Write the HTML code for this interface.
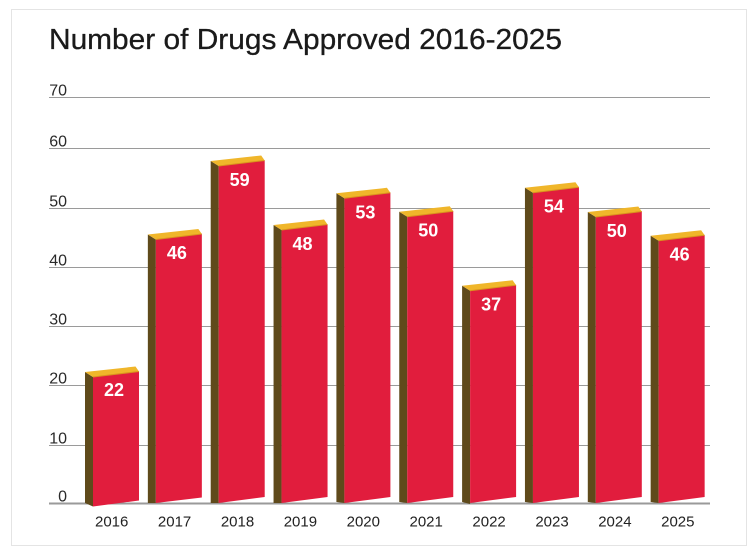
<!DOCTYPE html>
<html>
<head>
<meta charset="utf-8">
<style>
html,body{margin:0;padding:0;background:#fff;}
svg{display:block;}
text{font-family:"Liberation Sans",Arial,sans-serif;}
</style>
</head>
<body>
<svg width="754" height="556" viewBox="0 0 754 556" xmlns="http://www.w3.org/2000/svg">
<rect x="11.5" y="9.5" width="735" height="536" fill="#fff" stroke="#e4e4e4" stroke-width="1"/>
<text x="49" y="49" font-size="29" fill="#1a1a1a" stroke="#1a1a1a" stroke-width="0.3" textLength="513" lengthAdjust="spacingAndGlyphs">Number of Drugs Approved 2016-2025</text>

<g stroke="#9a9a9a" stroke-width="1">
<line x1="49" y1="97.5" x2="710" y2="97.5"/>
<line x1="49" y1="148.5" x2="710" y2="148.5"/>
<line x1="49" y1="208.5" x2="710" y2="208.5"/>
<line x1="49" y1="267.5" x2="710" y2="267.5"/>
<line x1="49" y1="326.5" x2="710" y2="326.5"/>
<line x1="49" y1="385.5" x2="710" y2="385.5"/>
<line x1="49" y1="445.5" x2="710" y2="445.5"/>
</g>
<line x1="49" y1="503.5" x2="710" y2="503.5" stroke="#9a9a9a" stroke-width="2"/>

<g font-size="16" fill="#2a2a2a" text-anchor="end">
<text x="67" y="95.5">70</text>
<text x="67" y="146.5">60</text>
<text x="67" y="206.5">50</text>
<text x="67" y="265.5">40</text>
<text x="67" y="324.5">30</text>
<text x="67" y="383.5">20</text>
<text x="67" y="443.5">10</text>
<text x="67" y="501.5">0</text>
</g>

<g id="bars">
<!-- 2016 -->
<polygon points="85,372 93,377 93,506.5 85,503" fill="#5f4a1b"/>
<polygon points="93,377 139,371.5 139,500.5 93,506.5" fill="#e11d3d"/>
<polygon points="85,372 93,377 139,371.5 135.5,366.5" fill="#f0b62a"/>
<line x1="93" y1="377" x2="139" y2="371.5" stroke="#d8931e" stroke-width="1"/>

<!-- 2017 -->
<polygon points="147.85,234.5 155.85,239.5 155.85,503 147.85,503" fill="#5f4a1b"/>
<polygon points="155.85,239.5 201.85,234 201.85,497.5 155.85,503" fill="#e11d3d"/>
<polygon points="147.85,234.5 155.85,239.5 201.85,234 198.35,229" fill="#f0b62a"/>
<line x1="155.85" y1="239.5" x2="201.85" y2="234" stroke="#d8931e" stroke-width="1"/>

<!-- 2018 -->
<polygon points="210.7,161 218.7,166 218.7,503 210.7,503" fill="#5f4a1b"/>
<polygon points="218.7,166 264.7,160.5 264.7,497 218.7,503" fill="#e11d3d"/>
<polygon points="210.7,161 218.7,166 264.7,160.5 261.2,155.5" fill="#f0b62a"/>
<line x1="218.7" y1="166" x2="264.7" y2="160.5" stroke="#d8931e" stroke-width="1"/>

<!-- 2019 -->
<polygon points="273.55,225 281.55,230 281.55,503 273.55,503" fill="#5f4a1b"/>
<polygon points="281.55,230 327.55,224.5 327.55,497 281.55,503" fill="#e11d3d"/>
<polygon points="273.55,225 281.55,230 327.55,224.5 324.05,219.5" fill="#f0b62a"/>
<line x1="281.55" y1="230" x2="327.55" y2="224.5" stroke="#d8931e" stroke-width="1"/>

<!-- 2020 -->
<polygon points="336.4,193.3 344.4,198.3 344.4,503 336.4,502" fill="#5f4a1b"/>
<polygon points="344.4,198.3 390.4,192.8 390.4,497 344.4,503" fill="#e11d3d"/>
<polygon points="336.4,193.3 344.4,198.3 390.4,192.8 386.9,187.8" fill="#f0b62a"/>
<line x1="344.4" y1="198.3" x2="390.4" y2="192.8" stroke="#d8931e" stroke-width="1"/>

<!-- 2021 -->
<polygon points="399.25,211.7 407.25,216.7 407.25,503 399.25,502" fill="#5f4a1b"/>
<polygon points="407.25,216.7 453.25,211.2 453.25,497 407.25,503" fill="#e11d3d"/>
<polygon points="399.25,211.7 407.25,216.7 453.25,211.2 449.75,206.2" fill="#f0b62a"/>
<line x1="407.25" y1="216.7" x2="453.25" y2="211.2" stroke="#d8931e" stroke-width="1"/>

<!-- 2022 -->
<polygon points="462.1,285.7 470.1,290.7 470.1,504 462.1,502" fill="#5f4a1b"/>
<polygon points="470.1,290.7 516.1,285.2 516.1,497 470.1,503" fill="#e11d3d"/>
<polygon points="462.1,285.7 470.1,290.7 516.1,285.2 512.6,280.2" fill="#f0b62a"/>
<line x1="470.1" y1="290.7" x2="516.1" y2="285.2" stroke="#d8931e" stroke-width="1"/>

<!-- 2023 -->
<polygon points="524.95,187.7 532.95,192.7 532.95,503 524.95,502" fill="#5f4a1b"/>
<polygon points="532.95,192.7 578.95,187.2 578.95,497 532.95,503" fill="#e11d3d"/>
<polygon points="524.95,187.7 532.95,192.7 578.95,187.2 575.45,182.2" fill="#f0b62a"/>
<line x1="532.95" y1="192.7" x2="578.95" y2="187.2" stroke="#d8931e" stroke-width="1"/>

<!-- 2024 -->
<polygon points="587.8,212 595.8,217 595.8,503 587.8,502" fill="#5f4a1b"/>
<polygon points="595.8,217 641.8,211.5 641.8,497 595.8,503" fill="#e11d3d"/>
<polygon points="587.8,212 595.8,217 641.8,211.5 638.3,206.5" fill="#f0b62a"/>
<line x1="595.8" y1="217" x2="641.8" y2="211.5" stroke="#d8931e" stroke-width="1"/>

<!-- 2025 -->
<polygon points="650.65,235.7 658.65,240.7 658.65,503 650.65,502" fill="#5f4a1b"/>
<polygon points="658.65,240.7 704.65,235.2 704.65,497 658.65,503" fill="#e11d3d"/>
<polygon points="650.65,235.7 658.65,240.7 704.65,235.2 701.15,230.2" fill="#f0b62a"/>
<line x1="658.65" y1="240.7" x2="704.65" y2="235.2" stroke="#d8931e" stroke-width="1"/>
</g>

<g font-size="18" font-weight="bold" fill="#fff" text-anchor="middle">
<text x="114" y="396">22</text>
<text x="176.85" y="259">46</text>
<text x="239.7" y="186">59</text>
<text x="302.55" y="250">48</text>
<text x="365.4" y="218.3">53</text>
<text x="428.25" y="236.7">50</text>
<text x="491.1" y="310.7">37</text>
<text x="553.95" y="212.7">54</text>
<text x="616.8" y="237">50</text>
<text x="679.65" y="260.7">46</text>
</g>

<g font-size="15" fill="#222" text-anchor="middle">
<text x="111.7" y="526.7">2016</text>
<text x="174.6" y="526.7">2017</text>
<text x="237.5" y="526.7">2018</text>
<text x="300.4" y="526.7">2019</text>
<text x="363.3" y="526.7">2020</text>
<text x="426.2" y="526.7">2021</text>
<text x="489.1" y="526.7">2022</text>
<text x="552" y="526.7">2023</text>
<text x="614.9" y="526.7">2024</text>
<text x="677.8" y="526.7">2025</text>
</g>
</svg>
</body>
</html>
